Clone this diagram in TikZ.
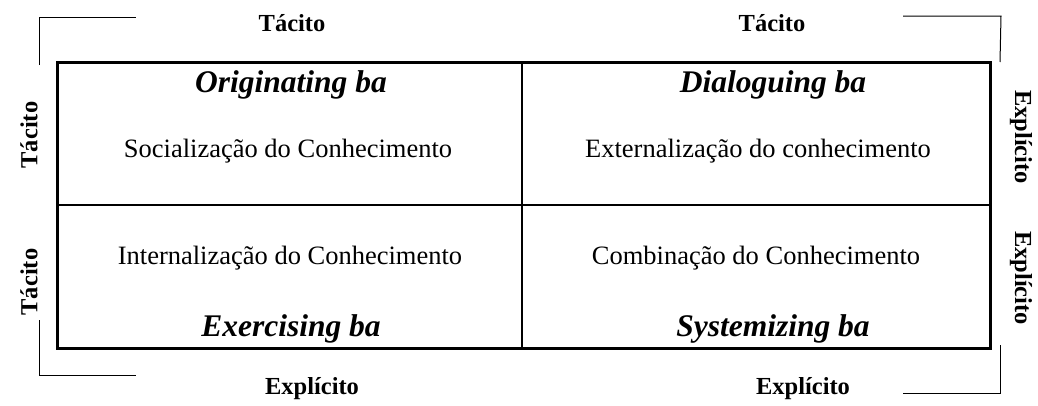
\documentclass[tikz,border=0pt]{standalone}
\usepackage{fontspec}
\setmainfont{Liberation Serif}
\begin{document}
\begin{tikzpicture}[x=1pt,y=-1pt,
    lado/.style={font=\fontsize{24.5}{24.5}\bfseries\selectfont, inner sep=0pt},
    ba/.style={font=\fontsize{31.5}{31.5}\bfseries\itshape\selectfont, inner sep=0pt},
    modo/.style={font=\fontsize{26.5}{26.5}\selectfont, inner sep=0pt}]
      \useasboundingbox (0,0) rectangle (1038,405);
      % quadro principal
      \draw[line width=3pt]
        (57,62) coordinate (no) rectangle (990,348) coordinate (se);
      \draw[line width=1.5pt] (57,205) -- (990,205);
      \draw[line width=1.5pt] (522,62) -- (522,348);
      % cantos
      \draw[line width=1pt] (39,65) -- (39,17) -- (136,17);
      \draw[line width=1pt] (903,16) -- (1001,16) -- (1000,62);
      \draw[line width=1pt] (39,320) -- (39,375) -- (136,375);
      \draw[line width=1pt] (903,393) -- (1000,393) -- (1000,345);
      % rotulos externos
      \draw
        (292,23) node[lado] (t1){Tácito}
        (772,23) node[lado] (t2){Tácito}
        (312,389) node[lado] (e1){Explícito}
        (803,389) node[lado] (e2){Explícito}
        (29,135) node[lado,rotate=90] (t3){Tácito}
        (29,282) node[lado,rotate=90] (t4){Tácito}
        (1021,137) node[lado,rotate=-90] (e3){Explícito}
        (1021,278) node[lado,rotate=-90] (e4){Explícito};
      % quadrantes
      \draw
        (291,85) node[ba] (orig){Originating ba}
        (773,85) node[ba] (dial){Dialoguing ba}
        (291,329) node[ba] (exer){Exercising ba}
        (773,329) node[ba] (syst){Systemizing ba}
        (288,151) node[modo] (soc){Socialização do Conhecimento}
        (758,151) node[modo] (ext){Externalização do conhecimento}
        (290,258) node[modo] (int){Internalização do Conhecimento}
        (756,258) node[modo] (comb){Combinação do Conhecimento};
    \end{tikzpicture}
\end{document}
